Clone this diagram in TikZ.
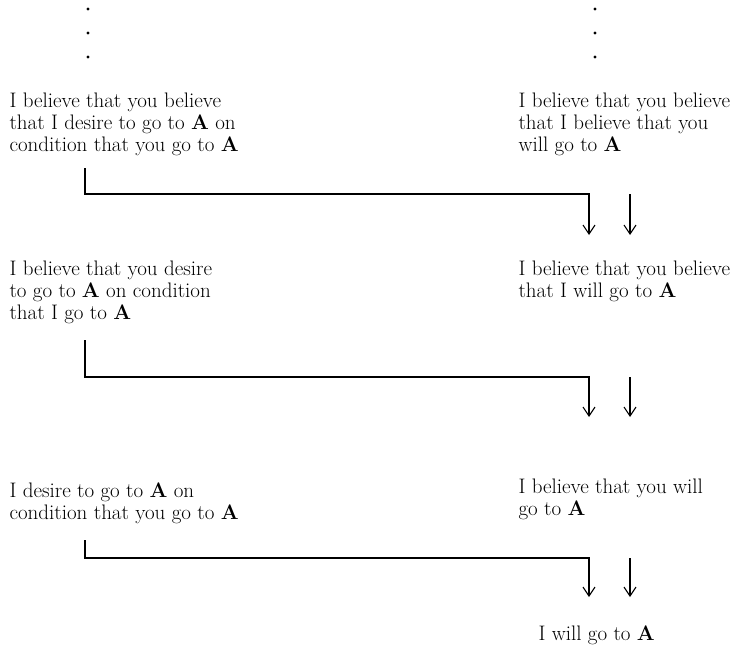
\documentclass[tikz,border=0pt]{standalone}
\usepackage{tikz}
\usetikzlibrary{positioning}
\usetikzlibrary{arrows.meta}
\tikzstyle{claim} = [anchor=base west, align=left, inner sep=0pt, font=\fontsize{21}{22}\selectfont]
\tikzstyle{dot} = [circle, fill, inner sep=0pt, minimum size=3.2pt]
\tikzstyle{coord} = [coordinate]

\begin{document}
\begin{tikzpicture}[x=1pt,y=-1pt,line width=1.1pt,>={Straight Barb[length=9pt,width=12pt]}]
    \useasboundingbox (0,0) rectangle (752,649);
    % the dots above each column
    \node [dot] (ld1) at (88,9) {};
    \node [dot] (ld2) at (88,33) {};
    \node [dot] (ld3) at (88,57) {};
    \node [dot] (rd1) at (595,9) {};
    \node [dot] (rd2) at (595,33) {};
    \node [dot] (rd3) at (595,57) {};

    % base is the last line of each claim
    \node [claim] (l1) at (9,151) {I believe that you believe\\that I desire to go to \textbf{A} on\\condition that you go to \textbf{A}};
    \node [claim] (r1) at (518,151) {I believe that you believe\\that I believe that you\\will go to \textbf{A}};
    \node [claim] (l2) at (9,319) {I believe that you desire\\to go to \textbf{A} on condition\\that I go to \textbf{A}};
    \node [claim] (r2) at (518,297) {I believe that you believe\\that I will go to \textbf{A}};
    \node [claim] (l3) at (9,519) {I desire to go to \textbf{A} on\\condition that you go to \textbf{A}};
    \node [claim] (r3) at (518,515) {I believe that you will\\go to \textbf{A}};
    \node [claim] (goal) at (538,640) {I will go to \textbf{A}};

    % first step
    \node [coord] (s1) at (85,168) {};
    \node [coord] (e1) at (589,235) {};
    \node [coord] (t1) at (630,194) {};
    \draw [->] (s1) -- ++(0,26) -| (e1);
    \draw [->] (t1) -- (t1 |- e1);

    % second step
    \node [coord] (s2) at (85,340) {};
    \node [coord] (e2) at (589,417) {};
    \node [coord] (t2) at (630,377) {};
    \draw [->] (s2) -- ++(0,37) -| (e2);
    \draw [->] (t2) -- (t2 |- e2);

    % third step
    \node [coord] (s3) at (85,540) {};
    \node [coord] (e3) at (589,597) {};
    \node [coord] (t3) at (630,558) {};
    \draw [->] (s3) -- ++(0,18) -| (e3);
    \draw [->] (t3) -- (t3 |- e3);
\end{tikzpicture}
\end{document}
